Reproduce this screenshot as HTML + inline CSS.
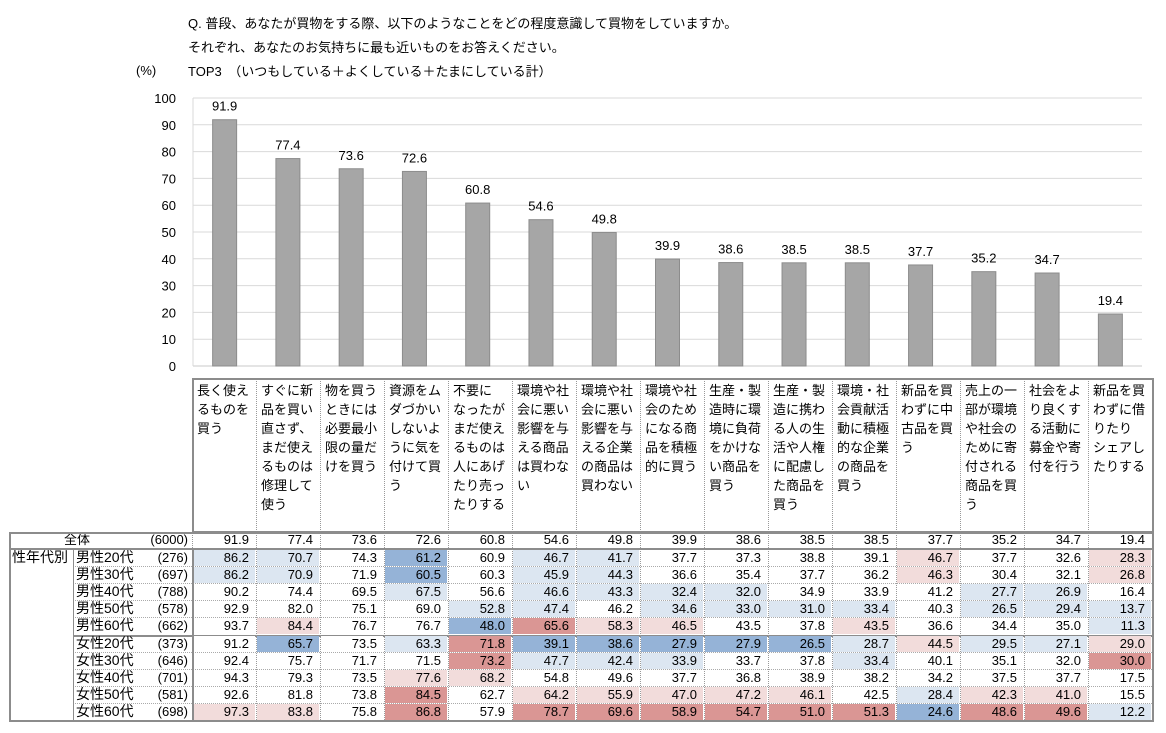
<!DOCTYPE html>
<html><head><meta charset="utf-8">
<style>
body{margin:0;width:1166px;height:733px;background:#fff;position:relative;overflow:hidden;font-family:"Liberation Sans","Noto Sans CJK JP",sans-serif;color:#000}
.t{position:absolute;white-space:nowrap;font-size:13px}
.c{position:absolute;box-sizing:border-box;font-size:13px}
</style></head><body>
<div class="t" style="left:188px;top:13px">Q. 普段、あなたが買物をする際、以下のようなことをどの程度意識して買物をしていますか。</div>
<div class="t" style="left:188px;top:37px">それぞれ、あなたのお気持ちに最も近いものをお答えください。</div>
<div class="t" style="left:188px;top:61px">TOP3　（いつもしている＋よくしている＋たまにしている計）</div>
<div class="t" style="left:136px;top:63px">(%)</div>
<svg id="chart" width="1166" height="380" style="position:absolute;left:0;top:0"></svg>
<div id="tbl"></div>
<script>
const categories=["長く使え\nるものを\n買う","すぐに新\n品を買い\n直さず、\nまだ使え\nるものは\n修理して\n使う","物を買う\nときには\n必要最小\n限の量だ\nけを買う","資源をム\nダづかい\nしないよ\nうに気を\n付けて買\nう","不要に\nなったが\nまだ使え\nるものは\n人にあげ\nたり売っ\nたりする","環境や社\n会に悪い\n影響を与\nえる商品\nは買わな\nい","環境や社\n会に悪い\n影響を与\nえる企業\nの商品は\n買わない","環境や社\n会のため\nになる商\n品を積極\n的に買う","生産・製\n造時に環\n境に負荷\nをかけな\nい商品を\n買う","生産・製\n造に携わ\nる人の生\n活や人権\nに配慮し\nた商品を\n買う","環境・社\n会貢献活\n動に積極\n的な企業\nの商品を\n買う","新品を買\nわずに中\n古品を買\nう","売上の一\n部が環境\nや社会の\nために寄\n付される\n商品を買\nう","社会をよ\nり良くす\nる活動に\n募金や寄\n付を行う","新品を買\nわずに借\nりたり\nシェアし\nたりする"];
const totalValues=[91.9,77.4,73.6,72.6,60.8,54.6,49.8,39.9,38.6,38.5,38.5,37.7,35.2,34.7,19.4];
const yTicks=[0,10,20,30,40,50,60,70,80,90,100];
const groupLabels=["男性20代","男性30代","男性40代","男性50代","男性60代","女性20代","女性30代","女性40代","女性50代","女性60代"];
const groupN=[276,697,788,578,662,373,646,701,581,698];
const m20=[86.2,70.7,74.3,61.2,60.9,46.7,41.7,37.7,37.3,38.8,39.1,46.7,37.7,32.6,28.3];
const m30=[86.2,70.9,71.9,60.5,60.3,45.9,44.3,36.6,35.4,37.7,36.2,46.3,30.4,32.1,26.8];
const m40=[90.2,74.4,69.5,67.5,56.6,46.6,43.3,32.4,32.0,34.9,33.9,41.2,27.7,26.9,16.4];
const m50=[92.9,82.0,75.1,69.0,52.8,47.4,46.2,34.6,33.0,31.0,33.4,40.3,26.5,29.4,13.7];
const m60=[93.7,84.4,76.7,76.7,48.0,65.6,58.3,46.5,43.5,37.8,43.5,36.6,34.4,35.0,11.3];
const f20=[91.2,65.7,73.5,63.3,71.8,39.1,38.6,27.9,27.9,26.5,28.7,44.5,29.5,27.1,29.0];
const f30=[92.4,75.7,71.7,71.5,73.2,47.7,42.4,33.9,33.7,37.8,33.4,40.1,35.1,32.0,30.0];
const f40=[94.3,79.3,73.5,77.6,68.2,54.8,49.6,37.7,36.8,38.9,38.2,34.2,37.5,37.7,17.5];
const f50=[92.6,81.8,73.8,84.5,62.7,64.2,55.9,47.0,47.2,46.1,42.5,28.4,42.3,41.0,15.5];
const f60=[97.3,83.8,75.8,86.8,57.9,78.7,69.6,58.9,54.7,51.0,51.3,24.6,48.6,49.6,12.2];
const groupRows=[m20,m30,m40,m50,m60,f20,f30,f40,f50,f60];

const NS="http://www.w3.org/2000/svg";
const svg=document.getElementById('chart');
const plotL=193,plotR=1142,y0=366,y100=98;
const yS=v=>y0-(y0-y100)*v/100;
const band=(plotR-plotL)/categories.length;
const xC=i=>plotL+band*(i+0.5);
function mk(tag,attrs){const e=document.createElementNS(NS,tag);for(const k in attrs)e.setAttribute(k,attrs[k]);svg.appendChild(e);return e;}
yTicks.forEach(t=>{
  const l=mk('line',{x1:plotL,x2:plotR,y1:yS(t),y2:yS(t),stroke:t===0?'#c8c8c8':'#d9d9d9','stroke-width':1});
  
  
  const tx=mk('text',{x:176,y:yS(t)+5,'text-anchor':'end','font-size':13,fill:'#000','font-family':'Liberation Sans, sans-serif'});
  tx.textContent=t;
  
  
});
mk('line',{x1:plotL,x2:plotL,y1:y100,y2:y0,stroke:'#d9d9d9'});
totalValues.forEach((v,i)=>{
  const r=mk('rect',{x:xC(i)-12,y:yS(v),width:24,height:y0-yS(v),fill:'#a6a6a6',stroke:'#8c8c8c','stroke-width':1});
  
  
  const tx=mk('text',{x:xC(i),y:yS(v)-9,'text-anchor':'middle','font-size':13,fill:'#000','font-family':'Liberation Sans, sans-serif'});
  tx.textContent=v.toFixed(1);
  
  
});

const tbl=document.getElementById('tbl');
const colL=192,colW=64,hdrT=378,hdrB=532,rowH=17.1,totT=532;
function div(css,txt,name){const d=document.createElement('div');d.className='c';d.style.cssText=css;if(txt!==undefined)d.textContent=txt;


tbl.appendChild(d);return d;}
function color(v,base){const d=v-base;if(d>=10)return'#da9694';if(d>=5)return'#f2dcdb';if(d<=-10)return'#95b3d7';if(d<=-5)return'#dce6f1';return'#fff';}
categories.forEach((c,i)=>{
  div(`left:${colL+i*colW}px;top:${hdrT}px;width:${colW}px;height:${hdrB-hdrT}px;border-left:1px dotted #999;padding:3px 0 0 4px;font-size:13px;line-height:19px;white-space:pre-line`,c,'column-header');
});
const tt=totT;
div(`left:64px;top:${tt}px;font-size:13px;line-height:16px`,'全体','total-label');
div(`left:130px;top:${tt}px;width:58px;text-align:right;line-height:16px`,'(6000)','total-n');
totalValues.forEach((v,i)=>{
  div(`left:${colL+i*colW}px;top:${tt}px;width:${colW}px;height:16px;border-left:1px dotted #999;text-align:right;padding-right:7px;line-height:16px`,v.toFixed(1),'total-value-cell');
});
const rT=549;
groupRows.forEach((row,r)=>{
  const y=rT+r*rowH;
  div(`left:73px;top:${y}px;width:1079px;height:${rowH}px;border-top:${r===5?'2px solid #8c8c8c':'1px dotted #aaa'}`,'','row-line');
  div(`left:76px;top:${y}px;line-height:17px;font-size:14px`,groupLabels[r],'group-label');
  div(`left:130px;top:${y}px;width:58px;text-align:right;line-height:17px`,'('+groupN[r]+')','group-n');
  row.forEach((v,i)=>{
    div(`left:${colL+i*colW+1}px;top:${y+1}px;width:${colW-2}px;height:${rowH-1}px;background:${color(v,totalValues[i])};text-align:right;padding-right:6px;line-height:16px`,v.toFixed(1),'heat-cell');
  });
});
for(let i=0;i<=15;i++){
  div(`left:${colL+i*colW}px;top:${rT}px;width:0;height:${10*rowH}px;border-left:${i===15?'0':'1px dotted #999'}`,'','col-line');
}
div(`left:12px;top:${rT}px;line-height:17px;font-size:14px`,'性年代別','group-section-label');
div(`left:73px;top:${rT}px;width:0;height:${10*rowH}px;border-left:1px solid #8c8c8c`,'','divider');
div(`left:${colL}px;top:${rT}px;width:0;height:${10*rowH}px;border-left:2px solid #8c8c8c`,'','divider');
div(`left:${colL}px;top:${hdrT}px;width:${15*colW+2}px;height:${hdrB-hdrT+1}px;border:2px solid #8c8c8c`,'','header-border');
div(`left:9px;top:${totT}px;width:${colL+15*colW-9+2}px;height:${rT+10*rowH-totT+2}px;border:2px solid #8c8c8c`,'','table-border');
div(`left:9px;top:${rT-1}px;width:${colL+15*colW-9}px;height:0;border-top:2px solid #8c8c8c`,'','total-divider');
</script>
</body></html>
